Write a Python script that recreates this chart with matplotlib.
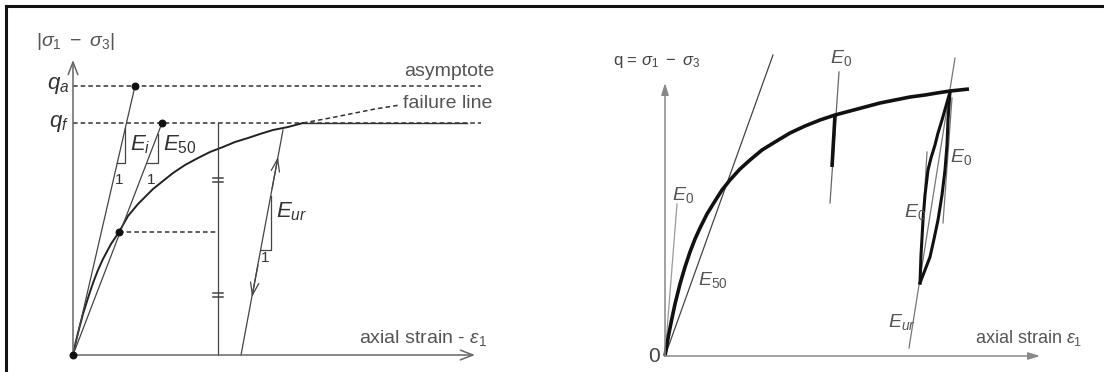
import matplotlib.pyplot as plt
from matplotlib import font_manager
from matplotlib.lines import Line2D

# pick a condensed sans if there is one
names = {f.name for f in font_manager.fontManager.ttflist}
fam = 'Liberation Sans Narrow' if 'Liberation Sans Narrow' in names else 'Liberation Sans'
plt.rcParams['font.family'] = [fam, 'DejaVu Sans']
plt.rcParams['mathtext.fontset'] = 'custom'
plt.rcParams['mathtext.rm'] = fam
plt.rcParams['mathtext.it'] = fam + ':italic'

# ---- left: hyperbolic stress-strain curve (units ~ pixels from origin)
q_a = 269
q_f = 232
curve_x = [0, 3, 6, 10, 15, 20, 25, 30, 38, 46, 55, 65, 80, 90, 100, 112, 125, 137,
           150, 162, 175, 187, 200, 215, 230]
curve_y = [0, 14, 26, 41, 57, 72, 85, 96, 111, 123, 139, 151, 166, 174, 182, 190, 197, 203,
           208, 213, 217, 221, 225, 228, 232]
tail_x = [230, 257, 277, 302, 327]          # dashed continuation to the asymptote
tail_y = [232, 237, 241, 246, 250]
ei_pt = (62, 269)
e50_pt = (89, 232)
half_pt = (46, 123)
eur_start = (168, 0)
eur_end = (210, 225)
split_x = 145
eq_marks = [175, 60]

# ---- right: curve with unload/reload loop
rc_x = [0, 2, 4, 7, 10, 15, 20, 25, 30, 35, 42, 50, 57, 65, 75, 85, 97, 110, 125, 140,
        155, 170, 185, 200, 215, 230, 245, 260, 272, 285, 304]
rc_y = [0, 12, 23, 38, 52, 72, 89, 104, 117, 128, 142, 155, 166, 176, 187, 196, 206, 214,
        223, 230, 236, 241, 245, 249, 253, 256, 259, 261, 263, 265, 267]
unload_x = [285, 281, 277, 273, 270, 266, 263, 260, 258, 257, 256, 255]
unload_y = [264, 250, 236, 223, 211, 198, 186, 161, 136, 118, 101, 73]
reload_x = [255, 260, 265, 269, 273, 277, 280, 282, 283, 284, 285]
reload_y = [73, 86, 99, 117, 136, 161, 186, 211, 236, 250, 264]
e50_line = [(0, 0), (108, 301)]
e0_init = [(0, 0), (12, 152)]
e0_mid_thin = [(174, 284), (165, 153)]
e0_mid_thick = [(170, 241), (167, 189)]
eur_line = [(290, 298), (244, 8)]
e0_right = [(278, 133), (287, 258)]
e0_left = [(262, 204), (257, 119)]

W, H = 1104, 372
fig = plt.figure(figsize=(W / 100, H / 100), dpi=100)
fig.patch.set_facecolor('white')

ink = '#222222'
thin = '#444444'
axc = '#666666'
txt = '#555555'
dash = (0, (3, 2))

# left panel, origin at pixel (73, 355)
ax = fig.add_axes([0, 0, 0.5, 1])
ax.set_xlim(-73, 552 - 73)
ax.set_ylim(-17, 355)
ax.axis('off')

arrow_open = dict(arrowstyle='->,head_length=0.9,head_width=0.35', lw=1.1,
                  color=axc, shrinkA=0, shrinkB=0)
ax.annotate('', xy=(0, 295), xytext=(0, 0), arrowprops=arrow_open)
ax.annotate('', xy=(402, 0), xytext=(0, 0), arrowprops=arrow_open)

ax.plot([0, 408], [q_a, q_a], ls=dash, color='#333333', lw=1.1)
ax.plot([0, 408], [q_f, q_f], ls=dash, color='#333333', lw=1.1)
ax.plot([230, 394], [q_f, q_f], color='#333333', lw=1.0)
ax.plot([half_pt[0], split_x], [half_pt[1], half_pt[1]], ls=dash, color='#333333', lw=1.1)

ax.plot(curve_x, curve_y, color=ink, lw=1.4)
ax.plot(tail_x, tail_y, ls=dash, color='#333333', lw=1.1)

ax.plot([0, ei_pt[0]], [0, ei_pt[1]], color=thin, lw=0.9)
ax.plot([0, e50_pt[0]], [0, e50_pt[1]], color=thin, lw=0.9)
ax.plot([split_x, split_x], [0, q_f], color=thin, lw=0.9)
for yy in eq_marks:
    ax.plot([split_x - 5, split_x + 5], [yy + 2, yy + 2], color=thin, lw=1.1)
    ax.plot([split_x - 5, split_x + 5], [yy - 2, yy - 2], color=thin, lw=1.1)

ax.plot([eur_start[0], eur_end[0]], [eur_start[1], eur_end[1]], color=thin, lw=0.9)
arrow_mid = dict(arrowstyle='->,head_length=0.9,head_width=0.3', lw=0.9,
                 color=thin, shrinkA=0, shrinkB=0)
ax.annotate('', xy=(205, 198), xytext=(199, 166), arrowprops=arrow_mid)
ax.annotate('', xy=(179, 58), xytext=(185, 90), arrowprops=arrow_mid)

ax.scatter([0, ei_pt[0], e50_pt[0], half_pt[0]], [0, ei_pt[1], e50_pt[1], half_pt[1]],
           s=22, color='#111111', zorder=5)


# slope triangles: horizontal leg of width w, vertical leg up to the line
def slope_triangle(p0, p1, y0, w):
    k = (p1[1] - p0[1]) / (p1[0] - p0[0])
    x0 = p0[0] + (y0 - p0[1]) / k
    ax.plot([x0, x0 + w, x0 + w], [y0, y0, y0 + w * k], color=thin, lw=0.9)
    return x0


slope_triangle((0, 0), ei_pt, 192, 8)
slope_triangle((0, 0), e50_pt, 192, 11)
slope_triangle(eur_start, eur_end, 105, 10)

fs = 14
fe = 16
ax.text(2, 314, r'$|\sigma_1\ -\ \sigma_3|$', fontsize=fs, color=txt, ha='center', va='center')
ax.text(-4, q_a, r'$q_a$', fontsize=fe, color='#333333', ha='right', va='center')
ax.text(-4, q_f, r'$q_f$', fontsize=fe, color='#333333', ha='right', va='center')
ax.text(331, 284, 'asymptote', fontsize=fs, color=txt, ha='left', va='center')
ax.text(330, 252, 'failure line', fontsize=fs, color=txt, ha='left', va='center')
ax.text(57, 210, r'$E_i$', fontsize=fe, color='#333333', ha='left', va='center')
ax.text(90, 210, r'$E_{50}$', fontsize=fe, color='#333333', ha='left', va='center')
ax.text(46, 175, '1', fontsize=11, color='#333333', ha='center', va='center')
ax.text(78, 175, '1', fontsize=11, color='#333333', ha='center', va='center')
ax.text(192, 97, '1', fontsize=11, color='#333333', ha='center', va='center')
ax.text(203, 143, r'$E_{ur}$', fontsize=fe, color='#333333', ha='left', va='center')
ax.text(286, 17, r'axial strain - $\varepsilon_1$', fontsize=fs, color=txt, ha='left', va='center')

# right panel, origin at pixel (665, 356)
bx = fig.add_axes([0.5, 0, 0.5, 1])
bx.set_xlim(552 - 665, 1104 - 665)
bx.set_ylim(-16, 356)
bx.axis('off')

arrow_fill = dict(arrowstyle='-|>,head_length=0.7,head_width=0.22', lw=1.1,
                  color='#888888', shrinkA=0, shrinkB=0)
bx.annotate('', xy=(0, 273), xytext=(0, 0), arrowprops=arrow_fill)
bx.annotate('', xy=(375, 0), xytext=(0, 0), arrowprops=arrow_fill)


def seg(p, **kw):
    bx.plot([p[0][0], p[1][0]], [p[0][1], p[1][1]], **kw)


seg(e0_init, color='#999999', lw=0.9)
seg(e50_line, color=thin, lw=0.9)
seg(e0_mid_thin, color='#666666', lw=0.9)
seg(eur_line, color='#777777', lw=0.9)
seg(e0_right, color='#777777', lw=0.9)
seg(e0_left, color='#777777', lw=0.9)

bx.plot(rc_x, rc_y, color='#111111', lw=2.6, solid_capstyle='butt', solid_joinstyle='round')
bx.plot(unload_x, unload_y, color='#111111', lw=2.2, solid_joinstyle='round')
bx.plot(reload_x, reload_y, color='#111111', lw=2.2, solid_joinstyle='round')
seg(e0_mid_thick, color='#111111', lw=2.6, solid_capstyle='butt')

fs2 = 13
bx.text(-11, 0, '0', fontsize=fs2 + 2, color='#444444', ha='center', va='center')
bx.text(-8, 294, r'q = $\sigma_1\ -\ \sigma_3$', fontsize=fs2 - 1, color='#444444', ha='center', va='center')
bx.text(310, 18, r'axial strain $\varepsilon_1$', fontsize=fs2, color=txt, ha='left', va='center')
bx.text(7, 161, r'$E_0$', fontsize=fs2 + 1, color=txt, ha='left', va='center')
bx.text(33, 76, r'$E_{50}$', fontsize=fs2 + 1, color=txt, ha='left', va='center')
bx.text(165, 298, r'$E_0$', fontsize=fs2 + 1, color=txt, ha='left', va='center')
bx.text(285, 199, r'$E_0$', fontsize=fs2 + 1, color=txt, ha='left', va='center')
bx.text(239, 144, r'$E_0$', fontsize=fs2 + 1, color=txt, ha='left', va='center')
bx.text(223, 34, r'$E_{ur}$', fontsize=fs2 + 1, color=txt, ha='left', va='center')

# outer frame: top and left edges
fig.add_artist(Line2D([6 / W, 1], [(H - 6) / H] * 2, transform=fig.transFigure,
                      color='#111111', lw=2.2))
fig.add_artist(Line2D([6 / W] * 2, [0, (H - 6) / H], transform=fig.transFigure,
                      color='#111111', lw=2.2))

fig.savefig('out.png', dpi=100, facecolor='white')
